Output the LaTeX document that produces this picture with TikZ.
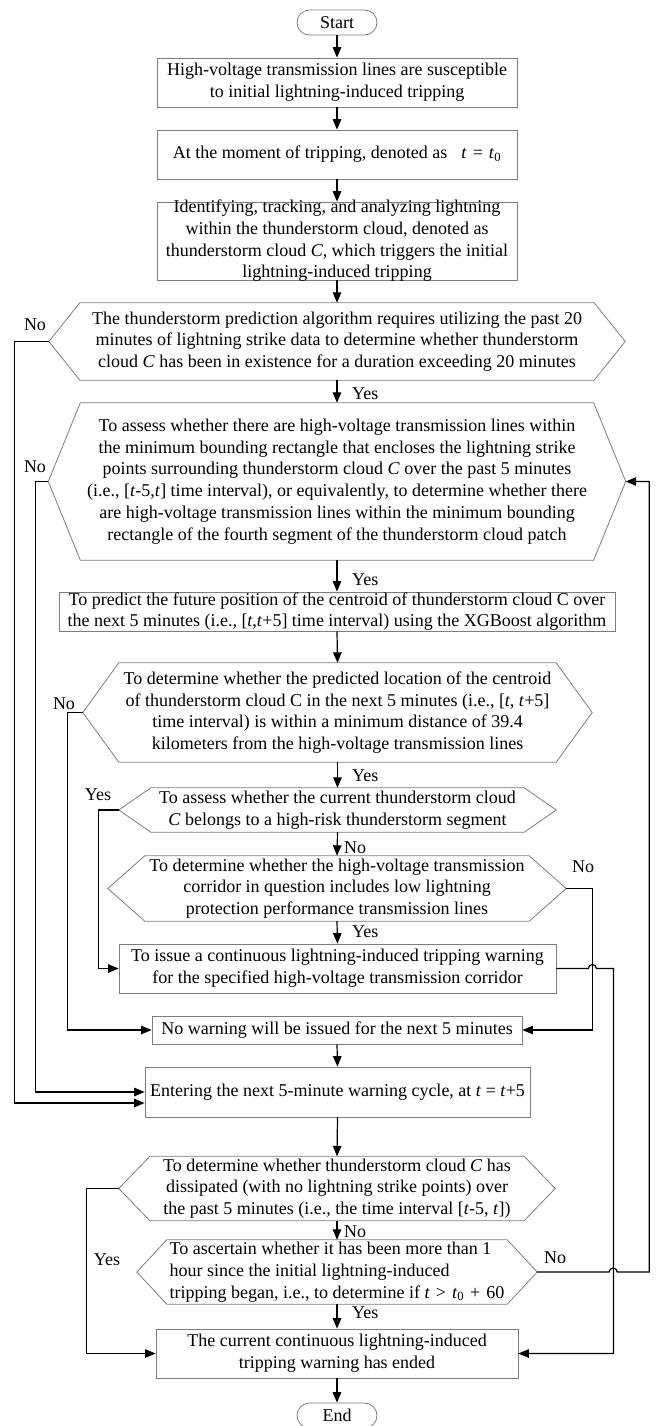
\documentclass[tikz,border=0pt]{standalone}
\usepackage{fontspec}
\setmainfont{Liberation Serif}
\usetikzlibrary{arrows.meta,shapes.misc}
\definecolor{boxgray}{RGB}{125,125,125}
\newcommand\hexout[2]{\draw[hexline] (#1.west) -- ([xshift=#2pt]#1.north west) -- ([xshift=-#2pt]#1.north east) -- (#1.east) -- ([xshift=-#2pt]#1.south east) -- ([xshift=#2pt]#1.south west) -- cycle;}
\tikzset{
  every node/.style={font=\fontsize{18}{21.7}\selectfont},
  box/.style={draw=boxgray, line width=0.8pt, rectangle, inner sep=0pt, align=center},
  hexa/.style={inner sep=0pt, align=center},
  txt/.style={inner sep=0pt, align=center},
  term/.style={draw=boxgray, line width=0.8pt, rounded rectangle, inner sep=0pt, minimum width=80pt, minimum height=25pt},
  conn/.style={draw=black, line width=1.2pt, -{Triangle[length=10.5pt,width=8.5pt]}},
  hexline/.style={draw=boxgray, line width=0.8pt, line join=miter},
  lab/.style={inner sep=0pt},
}
\begin{document}
\begin{tikzpicture}[x=1pt,y=-1pt]
\useasboundingbox (0,0) rectangle (657,1426);

% nodes
\node[term] (start) at (337,22.5) {Start};
\node[box, minimum width=360pt, minimum height=49pt] (b1) at (337,82.5)
  {High-voltage transmission lines are susceptible\\to initial lightning-induced tripping};
\node[box, minimum width=360pt, minimum height=49pt] (b2) at (337,154.5)
  {At the moment of tripping, denoted as\hspace{14pt}\textit{t}\hspace{6pt}=\hspace{6pt}\textit{t}\textsubscript{0}};
\node[box, minimum width=360pt, minimum height=78pt] (b3) at (337,241) {};
\node[txt] (b3t) at (b3.center)
  {Identifying, tracking, and analyzing lightning\\within the thunderstorm cloud, denoted as\\thunderstorm cloud \textit{C}, which triggers the initial\\lightning-induced tripping};

\node[hexa, minimum width=576pt, minimum height=77pt] (h1) at (337,341.5)
  {The thunderstorm prediction algorithm requires utilizing the past 20\\minutes of lightning strike data to determine whether thunderstorm\\cloud \textit{C} has been in existence for a duration exceeding 20 minutes};
\hexout{h1}{31}

\node[hexa, minimum width=577pt, minimum height=157pt] (h2) at (337,481.5)
  {To assess whether there are high-voltage transmission lines within\\the minimum bounding rectangle that encloses the lightning strike\\points surrounding thunderstorm cloud \textit{C} over the past 5 minutes\\(i.e., [\textit{t}-5,\textit{t}] time interval), or equivalently, to determine whether there\\are high-voltage transmission lines within the minimum bounding\\rectangle of the fourth segment of the thunderstorm cloud patch};
\hexout{h2}{32}

\node[box, minimum width=556pt, minimum height=39pt] (b4) at (337,611.5)
  {To predict the future position of the centroid of thunderstorm cloud C over\\the next 5 minutes (i.e., [\textit{t},\textit{t}+5] time interval) using the XGBoost algorithm};

\node[hexa, minimum width=509pt, minimum height=99pt] (h3) at (337.5,712.5)
  {To determine whether the predicted location of the centroid\\of thunderstorm cloud C in the next 5 minutes (i.e., [\textit{t}, \textit{t}+5]\\time interval) is within a minimum distance of 39.4\\kilometers from the high-voltage transmission lines};
\hexout{h3}{36}

\node[hexa, minimum width=437pt, minimum height=44pt] (h4) at (337.5,810)
  {To assess whether the current thunderstorm cloud\\\textit{C} belongs to a high-risk thunderstorm segment};
\hexout{h4}{32}

\node[hexa, minimum width=458pt, minimum height=65pt] (h5) at (337,888.5)
  {To determine whether the high-voltage transmission\\corridor in question includes low lightning\\protection performance transmission lines};
\hexout{h5}{37}

\node[box, minimum width=437pt, minimum height=49pt] (b5) at (337.5,968.5)
  {To issue a continuous lightning-induced tripping warning\\for the specified high-voltage transmission corridor};

\node[box, minimum width=370pt, minimum height=28pt] (b6) at (337,1030)
  {No warning will be issued for the next 5 minutes};

\node[box, minimum width=385pt, minimum height=50pt] (b7) at (337.5,1092)
  {Entering the next 5-minute warning cycle, at \textit{t} = \textit{t}+5};

\node[hexa, minimum width=436pt, minimum height=64pt] (h6) at (337,1188.5)
  {To determine whether thunderstorm cloud \textit{C} has\\dissipated (with no lightning strike points) over\\the past 5 minutes (i.e., the time interval [\textit{t}-5, \textit{t}])};
\hexout{h6}{31}

\node[hexa, minimum width=400pt, minimum height=64pt, align=left] (h7) at (337,1272)
  {To ascertain whether it has been more than 1\\hour since the initial lightning-induced\\tripping began, i.e., to determine if \textit{t}\,\,>\,\,\textit{t}\textsubscript{0}\,\,+\,\,60};
\hexout{h7}{30}

\node[box, minimum width=362pt, minimum height=49pt] (bend) at (337,1353.5)
  {The current continuous lightning-induced\\tripping warning has ended};

\node[term] (endn) at (337,1415.5) {End};

% main vertical connectors
\draw[conn] (start.south) -- (b1.north);
\draw[conn] (b1.south) -- (b2.north);
\draw[conn] (b2.south) -- (b3.north);
\draw[conn] (b3.south) -- (h1.north);
\draw[conn] (h1.south) -- (h2.north);
\draw[conn] (h2.south) -- (b4.north);
\draw[conn] (b4.south) -- (h3.north);
\draw[conn] (h3.south) -- (h4.north);
\draw[conn] (h4.south) -- (h5.north);
\draw[conn] (h5.south) -- (b5.north);
\draw[conn] (b6.south) -- (b7.north);
\draw[conn] (b7.south) -- (h6.north);
\draw[conn] (h6.south) -- (h7.north);
\draw[conn] (h7.south) -- (bend.north);
\draw[conn] (bend.south) -- (endn.north);

% side connectors
\draw[conn] (h1.west) -- ++(-34,0) |- ([yshift=-11pt]b7.west);
\draw[conn] (h2.west) -- ++(-12.5,0) |- (b7.west);
\draw[conn] (h3.west) -- ++(-15,0) |- (b6.west);
\draw[conn] (h4.west) -- ++(-20.5,0) |- (b5.west);
\draw[conn] (h5.east) -- ++(26,0) |- (b6.east);
\draw[conn] (b5.east) -- ++(32,0) arc[start angle=180,end angle=0,radius=4pt] -- ++(17,0) |- (bend.east);
\draw[conn] (h6.west) -- ++(-32,0) |- (bend.west);
\draw[conn] (h7.east) -- ++(72,0) arc[start angle=180,end angle=0,radius=4pt] -- ++(32,0) |- (h2.east);

% labels
\node[lab] (l1) at (35,325) {No};
\node[lab, anchor=west] (l2) at (352,394) {Yes};
\node[lab] (l3) at (35,467) {No};
\node[lab, anchor=west] (l4) at (352,580) {Yes};
\node[lab] (l5) at (64,704) {No};
\node[lab, anchor=west] (l6) at (352,776) {Yes};
\node[lab] (l7) at (98,795) {Yes};
\node[lab, anchor=west] (l8) at (344,848) {No};
\node[lab] (l9) at (583,867) {No};
\node[lab, anchor=west] (l10) at (352,932) {Yes};
\node[lab, anchor=west] (l11) at (344,1232) {No};
\node[lab] (l12) at (107,1260) {Yes};
\node[lab] (l13) at (555,1258) {No};
\node[lab, anchor=west] (l14) at (352,1313) {Yes};
\end{tikzpicture}
\end{document}
